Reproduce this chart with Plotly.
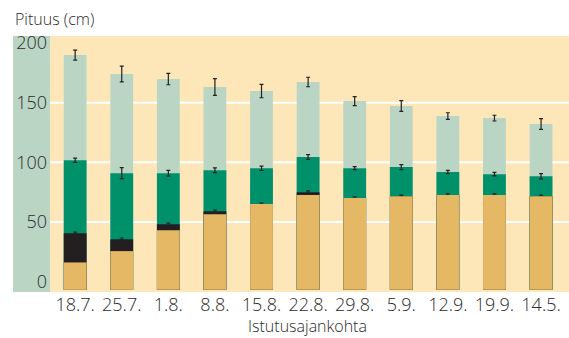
import plotly.graph_objects as go

# Planting dates (category axis)
dates = ["18.7.", "25.7.", "1.8.", "8.8.", "15.8.", "22.8.",
         "29.8.", "5.9.", "12.9.", "19.9.", "14.5."]

# Heights (cm) at successive measurements; each level drawn from the common base
tan_top = [16, 25.5, 43, 56.5, 65, 72.5, 70, 71.5, 72.5, 72.5, 71.5]
black_top = [40.5, 35.5, 48, 59, 65, 75, 70, 71.5, 72.5, 72.5, 71.5]
black_err = [1, 1, 1, 1, 1, 1, 1, 1, 1, 1, 1]
dgreen_top = [101.8, 90.9, 90.9, 93.4, 95.1, 104.4, 95.1, 96, 91.8, 90.1, 88.4]
dgreen_err = [1.8, 4.6, 2.4, 2, 1.8, 2, 1.3, 2.1, 1.4, 1.5, 2.2]
lgreen_top = [190, 174.1, 169.9, 163.2, 159.8, 167.4, 151.4, 147.2, 138.8, 137.1, 132.1]
lgreen_err = [4.2, 6.6, 4.8, 7, 5.6, 4, 3.8, 4.5, 2.8, 2.4, 4.5]

BASE = -7  # bars start slightly below the zero line

C_BG = "#fde7b9"
C_LG = "#bbd5c5"
C_DG = "#00916b"
C_BK = "#231f20"
C_TAN = "#e5b866"
C_TXT = "#2a2a2a"
FONT = "Open Sans, DejaVu Sans, sans-serif"
W = 300


def err(vals):
    return dict(type="data", array=vals, visible=True, color="#222222",
                thickness=1.2, width=2)


fig = go.Figure()
for tops, color, errs in [
    (lgreen_top, C_LG, lgreen_err),
    (dgreen_top, C_DG, dgreen_err),
    (black_top, C_BK, black_err),
    (tan_top, C_TAN, None),
]:
    fig.add_trace(go.Bar(
        x=dates,
        y=[t - BASE for t in tops],
        base=BASE,
        marker=dict(color=color, line=dict(width=0)),
        error_y=err(errs) if errs else None,
        hoverinfo="skip",
        showlegend=False,
    ))

PW, PH = 519, 256  # plot area size in px

shapes = []
# light green strip behind the y tick labels
shapes.append(dict(type="rect", xref="paper", yref="paper",
                   x0=(13 - 50) / PW, x1=0, y0=0, y1=1,
                   fillcolor=C_LG, line=dict(width=0), layer="below"))
for g in [50, 100, 150]:
    shapes.append(dict(type="line", xref="paper", yref="y",
                       x0=0, x1=1, y0=g, y1=g,
                       line=dict(color="white", width=2), layer="below"))

fig.update_layout(
    width=569, height=338,
    margin=dict(l=50, r=0, t=36, b=46),
    paper_bgcolor="white",
    plot_bgcolor=C_BG,
    barmode="overlay",
    bargap=0.51,
    font=dict(family=FONT, color=C_TXT, weight=W),
    shapes=shapes,
    xaxis=dict(range=[-0.54, 10.6], showgrid=False, zeroline=False,
               showline=False, ticks="",
               tickfont=dict(size=18, family=FONT, weight=W)),
    yaxis=dict(range=[-8.8, 206], tickvals=[0, 50, 100, 150, 200],
               showgrid=False, zeroline=False, showline=False, ticks="",
               ticklabelstandoff=2,
               tickfont=dict(size=18, family=FONT, weight=W)),
    annotations=[
        dict(text="Pituus (cm)", xref="paper", yref="paper",
             x=(13 - 50) / PW, y=(292 - 19) / PH, xanchor="left",
             yanchor="middle", showarrow=False,
             font=dict(size=16, family=FONT, weight=W)),
        dict(text="Istutusajankohta", xref="paper", yref="paper",
             x=(307 - 50) / PW, y=(292 - 326) / PH, xanchor="center",
             yanchor="middle", showarrow=False,
             font=dict(size=16, family=FONT, weight=W)),
    ],
)

fig.write_html("out.html")
